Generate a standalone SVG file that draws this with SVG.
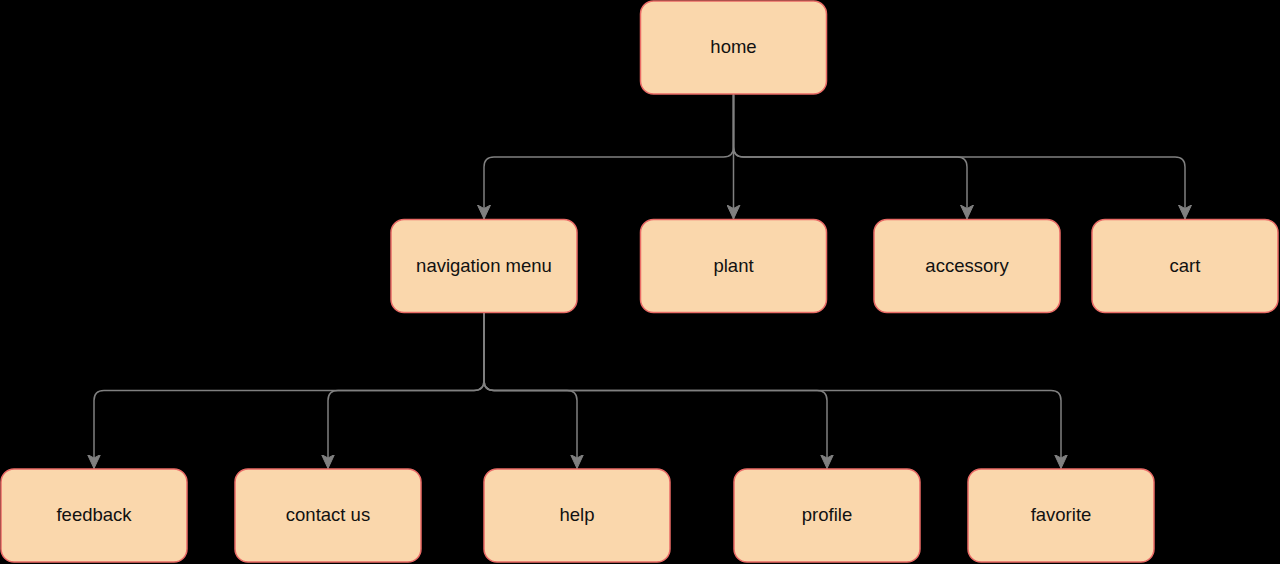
<svg xmlns="http://www.w3.org/2000/svg" width="1280" height="564" viewBox="0 0 1280 564">
<defs>
<style>
.node rect{fill:#fad7ac;stroke:#ea6b66;stroke-width:1.5}
.node text{font-family:"Liberation Sans",Arial,Helvetica,sans-serif;font-size:18.5px;fill:#111;text-anchor:middle;dominant-baseline:central}
.edge{fill:none;stroke:#808080;stroke-width:1.5;marker-end:url(#arr)}
</style>
<marker id="arr" markerUnits="userSpaceOnUse" viewBox="0 0 14 14" refX="14" refY="7" markerWidth="14" markerHeight="14" orient="auto">
<path d="M0,0.5 L14,7 L0,13.5 L3.5,7 Z" fill="#808080" stroke="#808080" stroke-width="1"/>
</marker>
</defs>
<rect width="1280" height="564" fill="#000"/>
<g id="connectors">
<path class="edge" d="M733.5 94.5 L733.5 147 Q733.5 157 723.5 157 L494 157 Q484 157 484 167 L484 219"/>
<path class="edge" d="M733.5 94.5 L733.5 219"/>
<path class="edge" d="M733.5 94.5 L733.5 147 Q733.5 157 743.5 157 L957 157 Q967 157 967 167 L967 219"/>
<path class="edge" d="M733.5 94.5 L733.5 147 Q733.5 157 743.5 157 L1175 157 Q1185 157 1185 167 L1185 219"/>
<path class="edge" d="M484 312.5 L484 380.5 Q484 390.5 474 390.5 L104 390.5 Q94 390.5 94 400.5 L94 468.5"/>
<path class="edge" d="M484 312.5 L484 380.5 Q484 390.5 474 390.5 L338 390.5 Q328 390.5 328 400.5 L328 468.5"/>
<path class="edge" d="M484 312.5 L484 380.5 Q484 390.5 494 390.5 L567 390.5 Q577 390.5 577 400.5 L577 468.5"/>
<path class="edge" d="M484 312.5 L484 380.5 Q484 390.5 494 390.5 L817 390.5 Q827 390.5 827 400.5 L827 468.5"/>
<path class="edge" d="M484 312.5 L484 380.5 Q484 390.5 494 390.5 L1051 390.5 Q1061 390.5 1061 400.5 L1061 468.5"/>
</g>
<g id="home" class="node"><rect x="640.5" y="1" width="186" height="93" rx="13"/><text x="733.5" y="46">home</text></g>
<g id="navigation-menu" class="node"><rect x="391" y="219.5" width="186" height="93" rx="13"/><text x="484" y="265">navigation menu</text></g>
<g id="plant" class="node"><rect x="640.5" y="219.5" width="186" height="93" rx="13"/><text x="733.5" y="265">plant</text></g>
<g id="accessory" class="node"><rect x="874" y="219.5" width="186" height="93" rx="13"/><text x="967" y="265">accessory</text></g>
<g id="cart" class="node"><rect x="1092" y="219.5" width="186" height="93" rx="13"/><text x="1185" y="265">cart</text></g>
<g id="feedback" class="node"><rect x="1" y="469" width="186" height="93" rx="13"/><text x="94" y="514">feedback</text></g>
<g id="contact-us" class="node"><rect x="235" y="469" width="186" height="93" rx="13"/><text x="328" y="514">contact us</text></g>
<g id="help" class="node"><rect x="484" y="469" width="186" height="93" rx="13"/><text x="577" y="514">help</text></g>
<g id="profile" class="node"><rect x="734" y="469" width="186" height="93" rx="13"/><text x="827" y="514">profile</text></g>
<g id="favorite" class="node"><rect x="968" y="469" width="186" height="93" rx="13"/><text x="1061" y="514">favorite</text></g>
</svg>
